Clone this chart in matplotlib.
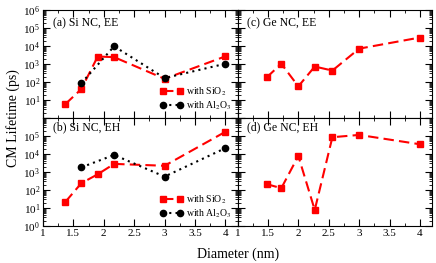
import numpy as np
import matplotlib.pyplot as plt
from matplotlib.ticker import MultipleLocator, LogLocator, NullFormatter, FormatStrFormatter

plt.rcParams['font.family'] = ['Liberation Serif', 'DejaVu Serif']
plt.rcParams['mathtext.fontset'] = 'stix'

# Si nanocrystals
si_d = [1.37, 1.63, 1.9, 2.17, 3.0, 4.0]
si_ee_sio2 = [6, 40, 2600, 2400, 150, 2650]
si_d_al = [1.63, 2.17, 3.0, 4.0]
si_ee_al2o3 = [85, 9600, 165, 1030]
si_eh_sio2 = [22, 235, 740, 2800, 2200, 1.7e5]
si_eh_al2o3 = [1800, 8800, 550, 2.1e4]

# Ge nanocrystals
ge_d = [1.48, 1.72, 2.0, 2.27, 2.56, 3.0, 4.0]
ge_ee = [180, 1030, 57, 720, 430, 7100, 29500]
ge_eh = [210, 125, 7700, 7.7, 85000, 1.14e5, 34500]

fig = plt.figure(figsize=(4.36, 2.63), dpi=100)
gs = fig.add_gridspec(2, 2, left=0.0986, right=0.991, top=0.962, bottom=0.141,
                      wspace=0, hspace=0)
axs = [[fig.add_subplot(gs[i, j]) for j in range(2)] for i in range(2)]

red = dict(color='red', ls=(0, (5, 2.5)), lw=1.5, marker='s', ms=4.5)
blk = dict(color='black', ls=(0, (1, 2)), lw=1.5, marker='o', ms=4.5)

ax = axs[0][0]
ax.plot(si_d, si_ee_sio2, label='with SiO$_2$', **red)
ax.plot(si_d_al, si_ee_al2o3, label='with Al$_2$O$_3$', **blk)
ax.text(0.05, 0.93, '(a) Si NC, EE', transform=ax.transAxes, va='top', fontsize=8.5)

ax = axs[1][0]
ax.plot(si_d, si_eh_sio2, label='with SiO$_2$', **red)
ax.plot(si_d_al, si_eh_al2o3, label='with Al$_2$O$_3$', **blk)
ax.text(0.05, 0.97, '(b) Si NC, EH', transform=ax.transAxes, va='top', fontsize=8.5)

ax = axs[0][1]
ax.plot(ge_d, ge_ee, **red)
ax.text(0.05, 0.93, '(c) Ge NC, EE', transform=ax.transAxes, va='top', fontsize=8.5)

ax = axs[1][1]
ax.plot(ge_d, ge_eh, **red)
ax.text(0.05, 0.97, '(d) Ge NC, EH', transform=ax.transAxes, va='top', fontsize=8.5)

for ax in (axs[0][0], axs[1][0]):
    ax.legend(loc='lower right', fontsize=7, frameon=False, numpoints=2,
              handlelength=2.4, handletextpad=0.3, labelspacing=0.2,
              borderaxespad=0.2)

xt = [1, 1.5, 2, 2.5, 3, 3.5, 4]
for i in range(2):
    for j in range(2):
        ax = axs[i][j]
        ax.set_yscale('log')
        ax.set_xticks(xt)
        ax.xaxis.set_major_formatter(FormatStrFormatter('%g'))
        ax.xaxis.set_minor_locator(MultipleLocator(0.25))
        ax.yaxis.set_minor_locator(LogLocator(base=10, subs=np.arange(2, 10), numticks=20))
        ax.yaxis.set_minor_formatter(NullFormatter())
        ax.tick_params(which='both', direction='in', top=True, right=True,
                       labelsize=8, pad=2)
        ax.tick_params(which='major', length=5)
        ax.tick_params(which='minor', length=2.5)
        if i == 0:
            ax.tick_params(labelbottom=False)
        if j == 1:
            ax.tick_params(labelleft=False)
        ax.set_yticks([10.0**k for k in range(0, 7)])
        ax.set_xlim(1, 4.2)
        ax.set_ylim(1, 1e6)

# hide overlapping labels at the panel join
axs[0][0].get_yticklabels()[0].set_visible(False)
axs[1][0].get_yticklabels()[-1].set_visible(False)

fig.text(0.03, 0.55, 'CM Lifetime (ps)', rotation=90, va='center', ha='center', fontsize=10)
fig.text(0.545, 0.035, 'Diameter (nm)', va='center', ha='center', fontsize=10)

fig.savefig('out.png', dpi=100)
